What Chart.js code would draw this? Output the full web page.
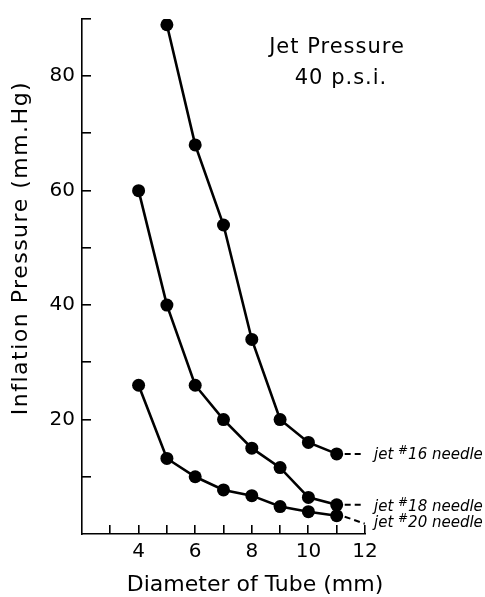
<!DOCTYPE html>
<html>
<head>
<meta charset="utf-8">
<script src="https://cdn.jsdelivr.net/npm/chart.js@4/dist/chart.umd.min.js"></script>
<style>
  html, body { margin: 0; padding: 0; background: #fff; }
  #wrap { width: 485px; height: 597px; }
</style>
</head>
<body>
<div id="wrap"><canvas id="c" width="485" height="597"></canvas></div>
<script>
// ---- data ----
const diameters16 = [5, 6, 7, 8, 9, 10, 11];
const jet16 = [89, 68, 54, 34, 20, 16, 14];
const diameters18 = [4, 5, 6, 7, 8, 9, 10, 11];
const jet18 = [60, 40, 26, 20, 15, 11.6, 6.4, 5.1];
const diameters20 = [4, 5, 6, 7, 8, 9, 10, 11];
const jet20 = [26, 13.2, 10, 7.7, 6.7, 4.8, 3.9, 3.2];
const xTickValues = [3, 4, 5, 6, 7, 8, 9, 10, 11, 12];
const yTickValues = [10, 20, 30, 40, 50, 60, 70, 80, 90];
const xLabelValues = [4, 6, 8, 10, 12];
const yLabelValues = [20, 40, 60, 80];
const seriesNames = ['16', '18', '20'];
const xTitle = 'Diameter of Tube (mm)';
const yTitle = 'Inflation Pressure (mm.Hg)';
const noteLines = ['Jet Pressure', '40 p.s.i.'];

const FONT = '"DejaVu Sans", sans-serif';

function pts(xs, ys) { return xs.map((v, i) => ({ x: v, y: ys[i] })); }

const ds = (xs, ys, name) => ({
  label: 'jet #' + name + ' needle',
  data: pts(xs, ys),
  borderColor: '#000',
  backgroundColor: '#000',
  borderWidth: 2.6,
  pointRadius: 6.5,
  pointBackgroundColor: '#000',
  pointBorderColor: '#000',
  pointBorderWidth: 0,
  tension: 0,
  fill: false
});

const decor = {
  id: 'decor',
  afterDraw(chart) {
    const ctx = chart.ctx;
    const a = chart.chartArea;
    const x = chart.scales.x, y = chart.scales.y;
    ctx.save();
    ctx.setLineDash([]);
    ctx.globalAlpha = 1;
    ctx.fillStyle = '#000';
    ctx.strokeStyle = '#000';
    // inside ticks
    xTickValues.forEach(v => {
      const px = x.getPixelForValue(v);
      ctx.fillRect(Math.round(px) - 1, a.bottom - 9, 1.6, 9);
    });
    yTickValues.forEach(v => {
      const py = y.getPixelForValue(v);
      ctx.fillRect(a.left, Math.round(py) - 1, 9, 1.6);
    });
    // axis titles
    ctx.font = '22px ' + FONT;
    ctx.textAlign = 'center';
    ctx.textBaseline = 'middle';
    ctx.fillText(xTitle, 255, 585);
    ctx.save();
    ctx.translate(21, 248);
    ctx.rotate(-Math.PI / 2);
    ctx.letterSpacing = '1.5px';
    ctx.fillText(yTitle, 0, 0);
    ctx.restore();
    // note
    ctx.font = '21px ' + FONT;
    ctx.letterSpacing = '1px';
    ctx.textBaseline = 'alphabetic';
    ctx.fillText(noteLines[0], 337, 53);
    ctx.fillText(noteLines[1], 341, 84);
    ctx.letterSpacing = '0px';
    // series labels with dashed leaders
    const offs = [
      { dy: 0, ty: 459 },
      { dy: 0, ty: 511 },
      { dy: 8, ty: 527 }
    ];
    chart.data.datasets.forEach((d, i) => {
      const meta = chart.getDatasetMeta(i);
      const last = meta.data[meta.data.length - 1];
      const px = last.x, py = last.y;
      ctx.save();
      ctx.setLineDash([6, 4]);
      ctx.lineWidth = 2;
      ctx.beginPath();
      ctx.moveTo(px + 8, py + (offs[i].dy ? 1 : 0));
      ctx.lineTo(px + 28, py + offs[i].dy);
      ctx.stroke();
      ctx.restore();
      let tx = 374;
      const ty = offs[i].ty;
      ctx.textAlign = 'left';
      ctx.font = 'italic 15px ' + FONT;
      ctx.fillText('jet ', tx, ty);
      tx += ctx.measureText('jet ').width;
      ctx.font = 'italic 12px ' + FONT;
      ctx.fillText('#', tx, ty - 5);
      tx += ctx.measureText('#').width;
      ctx.font = 'italic 15px ' + FONT;
      ctx.fillText(seriesNames[i] + ' needle', tx, ty);
    });
    ctx.restore();
  }
};

new Chart(document.getElementById('c'), {
  type: 'line',
  data: {
    datasets: [
      ds(diameters16, jet16, seriesNames[0]),
      ds(diameters18, jet18, seriesNames[1]),
      ds(diameters20, jet20, seriesNames[2])
    ]
  },
  options: {
    responsive: false,
    animation: false,
    devicePixelRatio: 1,
    layout: { padding: { left: 0, top: 9, right: 120, bottom: 0 } },
    plugins: { legend: { display: false }, tooltip: { enabled: false } },
    scales: {
      x: {
        type: 'linear',
        min: 2, max: 12,
        afterFit(s) { s.height = 63; },
        grid: { display: false, drawOnChartArea: false, drawTicks: false },
        border: { display: true, color: '#000', width: 1.6 },
        ticks: {
          stepSize: 1,
          padding: 6,
          color: '#000',
          font: { family: FONT, size: 20 },
          callback: v => xLabelValues.includes(v) ? String(v) : null
        }
      },
      y: {
        type: 'linear',
        min: 0, max: 90,
        afterFit(s) { s.width = 82; },
        grid: { display: false, drawOnChartArea: false, drawTicks: false },
        border: { display: true, color: '#000', width: 1.6 },
        ticks: {
          stepSize: 10,
          padding: 7,
          color: '#000',
          font: { family: FONT, size: 20 },
          callback: v => yLabelValues.includes(v) ? String(v) : null
        }
      }
    }
  },
  plugins: [decor]
});
</script>
</body>
</html>
